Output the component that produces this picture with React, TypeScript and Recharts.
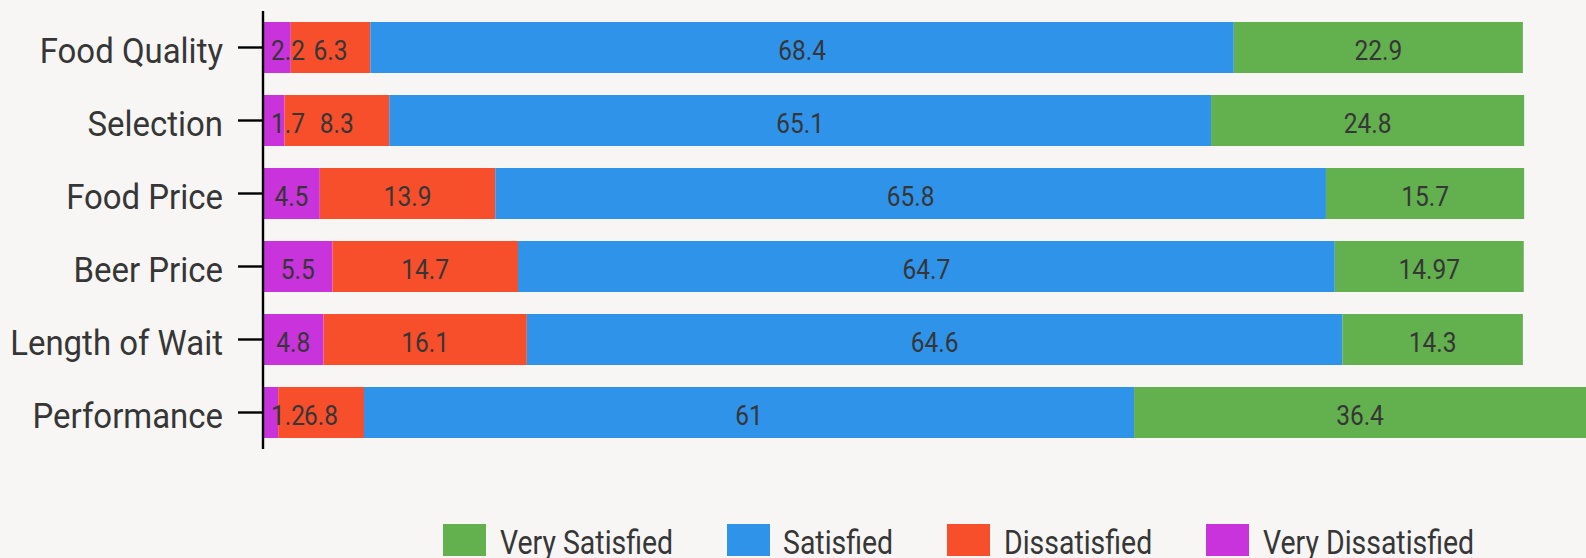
import React from 'react';
import { BarChart, Bar, XAxis, YAxis, Legend, LabelList } from 'recharts';

// Survey categories (top to bottom)
const categories = ['Food Quality', 'Selection', 'Food Price', 'Beer Price', 'Length of Wait', 'Performance'];

// Percent of respondents per rating
const veryDissatisfied = [2.2, 1.7, 4.5, 5.5, 4.8, 1.2];
const dissatisfied = [6.3, 8.3, 13.9, 14.7, 16.1, 6.8];
const satisfied = [68.4, 65.1, 65.8, 64.7, 64.6, 61];
const verySatisfied = [22.9, 24.8, 15.7, 14.97, 14.3, 36.4];

const seriesNames = ['Very Dissatisfied', 'Dissatisfied', 'Satisfied', 'Very Satisfied'];
const seriesKeys = ['veryDissatisfied', 'dissatisfied', 'satisfied', 'verySatisfied'];
const seriesColors = ['#c833dc', '#f74f2c', '#2f93e9', '#63b04f'];
const legendOrder = ['Very Satisfied', 'Satisfied', 'Dissatisfied', 'Very Dissatisfied'];

const data = categories.map((name, i) => ({
  name,
  veryDissatisfied: veryDissatisfied[i],
  dissatisfied: dissatisfied[i],
  satisfied: satisfied[i],
  verySatisfied: verySatisfied[i],
}));

const FONT = 'Roboto, sans-serif';
// horizontal squeeze for a condensed look
const TICK_SX = 0.915;
const VALUE_SX = 0.89;
const LEGEND_SX = 0.875;
const TEXT = '#363636';
const BG = '#f7f6f4';
const AXIS_WIDTH = 263;
const VALUE_SIZE = 27.5;
const LEGEND_SIZE = 32.5;

let measureCtx: CanvasRenderingContext2D | null = null;
const measure = (s: string, size: number) => {
  if (!measureCtx) measureCtx = document.createElement('canvas').getContext('2d');
  if (!measureCtx) return s.length * size * 0.5;
  measureCtx.font = `${size}px ${FONT}`;
  return measureCtx.measureText(s).width;
};

const CategoryTick = (props: any) => {
  const { x, y, payload } = props;
  return (
    <text
      transform={`translate(${x},${y + 15.5}) scale(${TICK_SX},1)`}
      textAnchor="end"
      fontSize={36}
      fontFamily={FONT}
      fill={TEXT}
    >
      {payload.value}
    </text>
  );
};

// Centered value label; kept clear of the axis line when the segment is narrow
const ValueLabel = (props: any) => {
  const { x, y, width, height, value } = props;
  const w = measure(String(value), VALUE_SIZE) * VALUE_SX;
  const left = Math.max(x + width / 2 - w / 2, AXIS_WIDTH + 8);
  return (
    <text
      transform={`translate(${left},${y + height / 2 + 12.8}) scale(${VALUE_SX},1)`}
      textAnchor="start"
      fontSize={VALUE_SIZE}
      fontFamily={FONT}
      fill={TEXT}
    >
      {value}
    </text>
  );
};

const LegendContent = () => {
  return (
    <div
      style={{
        display: 'flex',
        justifyContent: 'center',
        height: 40,
        paddingLeft: 331,
        boxSizing: 'border-box',
        width: 1586,
      }}
    >
      {legendOrder.map((name, i) => {
        const color = seriesColors[seriesNames.indexOf(name)];
        const w = measure(name, LEGEND_SIZE) * LEGEND_SX;
        return (
          <div
            key={name}
            style={{ display: 'flex', position: 'relative', height: 40, marginLeft: i === 0 ? 0 : 54 }}
          >
            <div style={{ width: 43, height: 32, background: color, marginTop: 6 }} />
            <div style={{ width: w, marginLeft: 13.5, height: 40, position: 'relative' }}>
              <span
                style={{
                  position: 'absolute',
                  left: 0,
                  top: 5,
                  fontSize: LEGEND_SIZE,
                  lineHeight: '40px',
                  fontFamily: FONT,
                  color: TEXT,
                  whiteSpace: 'nowrap',
                  transform: `scale(${LEGEND_SX},1)`,
                  transformOrigin: '0 0',
                }}
              >
                {name}
              </span>
            </div>
          </div>
        );
      })}
    </div>
  );
};

export default function App() {
  return (
    <div
      style={{
        position: 'absolute',
        left: 0,
        top: 0,
        width: 1586,
        height: 558,
        background: BG,
        overflow: 'hidden',
      }}
    >
      <BarChart
        width={1586}
        height={558}
        data={data}
        layout="vertical"
        margin={{ top: 11, right: 0, bottom: 69, left: 0 }}
        barSize={51}
      >
        <XAxis type="number" hide domain={[0, 104.8]} allowDataOverflow />
        <YAxis
          type="category"
          dataKey="name"
          width={AXIS_WIDTH}
          tickSize={25}
          tickMargin={15}
          axisLine={{ stroke: '#000', strokeWidth: 2.4 }}
          tickLine={{ stroke: '#000', strokeWidth: 2.4 }}
          tick={<CategoryTick />}
          interval={0}
        />
        <Legend
          verticalAlign="bottom"
          content={<LegendContent />}
          wrapperStyle={{ position: 'absolute', left: 0, top: 518, width: 1586, height: 40 }}
        />
        {seriesKeys.map((key, i) => (
          <Bar
            key={key}
            dataKey={key}
            name={seriesNames[i]}
            stackId="a"
            fill={seriesColors[i]}
            isAnimationActive={false}
          >
            <LabelList dataKey={key} content={<ValueLabel />} />
          </Bar>
        ))}
      </BarChart>
    </div>
  );
}
